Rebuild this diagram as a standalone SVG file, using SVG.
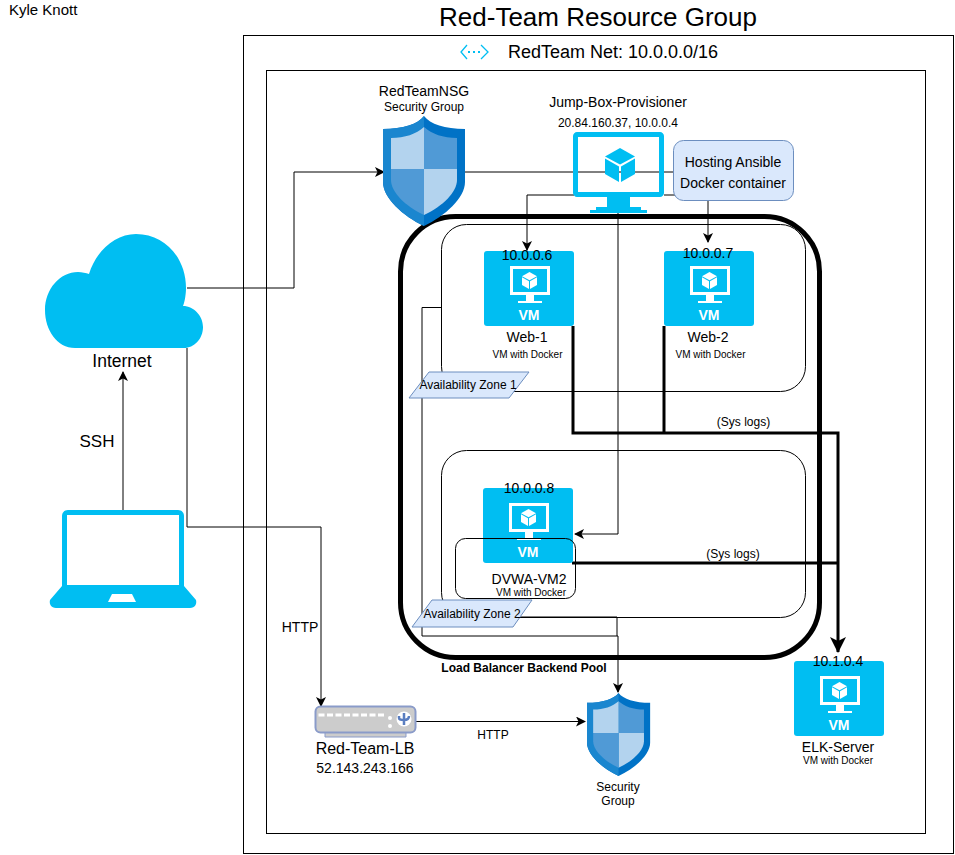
<svg xmlns="http://www.w3.org/2000/svg" xmlns:xlink="http://www.w3.org/1999/xlink" width="955" height="855" viewBox="0 0 955 855">
<style>
text{font-family:"Liberation Sans",Arial,sans-serif;fill:#000;text-anchor:middle}
.l{text-anchor:start}
.box{fill:none;stroke:#000;stroke-width:1}
.c{fill:none;stroke:#000;stroke-width:1}
.t{fill:none;stroke:#000;stroke-width:3}
.a{fill:#000;stroke:none}
.b{fill:#00bef2}
.z{fill:#dae8fc;stroke:#6c8ebf;stroke-width:1}
</style>
<defs>
<marker id="arr" markerWidth="11" markerHeight="11" refX="9" refY="5" orient="auto" markerUnits="userSpaceOnUse"><path d="M0 0L10 5L0 10L2.500 5Z" class="a"/></marker>
<marker id="arrT" markerWidth="18" markerHeight="18" refX="15" refY="8" orient="auto" markerUnits="userSpaceOnUse"><path d="M0 0L16 8L0 16L4 8Z" class="a"/></marker>
<symbol id="cube" viewBox="0 0 30 34" overflow="visible">
<path d="M15 0L30 8.500L15 16.500L0 8.500Z"/><path d="M0 10.500L14 18.500V34L0 26Z"/><path d="M30 10.500L16 18.500V34L30 26Z"/>
</symbol>
<g id="vm">
<rect width="90" height="75" rx="3" class="b"/>
<path d="M26 15H66V44H50V50H58V52H34V50H42V44H26ZM29 18V41H63V18Z" fill="#fff" fill-rule="evenodd"/>
<use xlink:href="#cube" href="#cube" x="38" y="21" width="15" height="17" fill="#fff"/>
<text x="45" y="69" font-size="14" font-weight="bold" style="fill:#fff">VM</text>
</g>
<g id="shield">
<path d="M41 0C47 8 62 13 82 13V66C82 82 62 100 41 110C20 100 0 82 0 66V13C20 13 35 8 41 0Z" fill="#0072c6"/>
<path d="M41 0C35 8 20 13 0 13V66C0 82 20 100 41 110Z" fill="#1a86cf"/>
<path d="M41 11C49 18 60 22 74 22V53H41Z" fill="#509ad6"/>
<path d="M41 11C33 18 22 22 8 22V53H41Z" fill="#b3d3ee"/>
<path d="M41 53H74V64C74 76 60 90 41 99Z" fill="#b3d3ee"/>
<path d="M41 53H8V64C8 76 22 90 41 99Z" fill="#509ad6"/>
</g>
</defs>
<g id="kyle"><text class="l" x="9" y="15" font-size="15">Kyle Knott</text></g>
<g id="resource-group">
<rect class="box" x="243.500" y="35.500" width="710" height="818"/>
<text x="598" y="26" font-size="26">Red-Team Resource Group</text>
</g>
<g id="redteam-net">
<rect class="box" x="266.500" y="70.500" width="659" height="763"/>
<path d="M467 45L461 52L467 59M481 45L488 52L481 59" fill="none" stroke="#00bef2" stroke-width="1.300"/>
<path d="M468 52H481" fill="none" stroke="#00bef2" stroke-width="2" stroke-dasharray="2 3"/>
<text class="l" x="508" y="58" font-size="18">RedTeam Net: 10.0.0.0/16</text>
</g>
<g id="zone1-box"><rect class="box" x="441.500" y="224.500" width="364" height="167" rx="25"/></g>
<g id="zone2-box"><rect class="box" x="441.500" y="450.500" width="364" height="167" rx="25"/></g>
<g id="connectors">
<path class="c" d="M187 288H294V172H384" marker-end="url(#arr)"/>
<path class="c" d="M465 172H673"/>
<path class="c" d="M574 195H527V250" marker-end="url(#arr)"/>
<path class="c" d="M664 195H708V201"/>
<path class="c" d="M708 201V242" marker-end="url(#arr)"/>
<path class="c" d="M618 213V534H575" marker-end="url(#arr)"/>
<path class="c" d="M442 307.500H422V636H618V692" marker-end="url(#arr)"/>
<path class="c" d="M520 617H617V636"/>
<path class="c" d="M187 348V527H321V706" marker-end="url(#arr)"/>
<path class="c" d="M416 721.500H585" marker-end="url(#arr)"/>
<path class="c" d="M123 510V372" marker-end="url(#arr)"/>
<path class="t" d="M573 326V433H838V652" marker-end="url(#arrT)"/>
<path class="t" d="M664 326V433"/>
<path class="t" d="M572 563H838"/>
</g>
<g id="lb-pool">
<rect x="400.500" y="216.500" width="419" height="441" rx="55" fill="none" stroke="#000" stroke-width="5"/>
<text x="524" y="672" font-size="12" font-weight="bold">Load Balancer Backend Pool</text>
</g>
<g id="internet">
<path class="b" d="M75 348C57 348 45 330 45 310C45 289 60 272 78 272C82 272 86 273 89 274C96 251 115 234 136 234C165 234 186 258 186 288C186 293 185 301 183 306C194 306 203 316 203 327C203 339 194 348 184 348Z"/>
<text x="122" y="367" font-size="17.500">Internet</text>
</g>
<text x="97" y="447" font-size="17">SSH</text>
<g id="laptop">
<path class="b" d="M68 510H178C182 510 184 513 184 516V586L196 600C197 604 195 608 190 608H56C51 608 49 604 50 600L62 586V516C62 513 64 510 68 510ZM67 515V585H179V515ZM112 594L108 602H136L132 594Z" fill-rule="evenodd"/>
</g>
<g id="jump-box">
<path class="b" d="M577 132H660C662 132 664 134 664 136V193C664 195 662 197 660 197H630V207H641V210H647V213H590V210H596V207H607V197H577C575 197 573 195 573 193V136C573 134 575 132 577 132ZM578 137V192H659V137Z" fill-rule="evenodd"/>
<use xlink:href="#cube" href="#cube" x="605" y="148" width="30" height="34" class="b"/>
<text x="618" y="107" font-size="14">Jump-Box-Provisioner</text>
<text x="618" y="127" font-size="12">20.84.160.37, 10.0.0.4</text>
</g>
<g id="ansible">
<rect class="z" x="673.500" y="140.500" width="120" height="60" rx="10"/>
<text x="733" y="167" font-size="14">Hosting Ansible</text>
<text x="733" y="188" font-size="14">Docker container</text>
</g>
<g id="nsg">
<use xlink:href="#shield" href="#shield" x="383" y="116"/>
<text x="424" y="96" font-size="14">RedTeamNSG</text>
<text x="424" y="111" font-size="12">Security Group</text>
</g>
<g id="web-1">
<use xlink:href="#vm" href="#vm" x="484" y="251"/>
<text x="527" y="260" font-size="14">10.0.0.6</text>
<text x="527" y="342" font-size="14">Web-1</text>
<text x="527.500" y="358" font-size="10">VM with Docker</text>
</g>
<g id="web-2">
<use xlink:href="#vm" href="#vm" x="664" y="251"/>
<text x="708" y="258" font-size="14">10.0.0.7</text>
<text x="708" y="342" font-size="14">Web-2</text>
<text x="710.500" y="358" font-size="10">VM with Docker</text>
</g>
<g id="dvwa">
<use xlink:href="#vm" href="#vm" x="483" y="488"/>
<rect class="box" x="455.500" y="538.500" width="120" height="60" rx="10"/>
<text x="529" y="493" font-size="14">10.0.0.8</text>
<text x="529" y="584" font-size="14">DVWA-VM2</text>
<text x="531" y="596" font-size="10">VM with Docker</text>
</g>
<g id="zone1">
<path class="z" d="M429 372H529L509 398H409Z"/>
<text x="468" y="389" font-size="12">Availability Zone 1</text>
</g>
<g id="zone2">
<path class="z" d="M432 600H532L513 627H412Z"/>
<text x="472" y="618" font-size="12">Availability Zone 2</text>
</g>
<text x="743.500" y="426" font-size="12">(Sys logs)</text>
<text x="733" y="558" font-size="12">(Sys logs)</text>
<g id="elk">
<use xlink:href="#vm" href="#vm" x="794" y="661"/>
<text x="838" y="666" font-size="14">10.1.0.4</text>
<text x="838" y="752" font-size="14">ELK-Server</text>
<text x="838" y="764" font-size="10">VM with Docker</text>
</g>
<g id="red-team-lb">
<path d="M325 730H406V737H325Z" fill="#ccc" stroke="#8a9bc9"/>
<rect x="315.500" y="706.500" width="100" height="26" rx="5" fill="#ccc" stroke="#8a9bc9" stroke-width="2"/>
<path d="M318.500 715H385" stroke="#fff" stroke-width="3" stroke-dasharray="6 2.500" fill="none"/>
<circle cx="390" cy="718" r="2" fill="#fff"/><circle cx="390" cy="726" r="2" fill="#fff"/>
<circle cx="404" cy="719" r="7.500" fill="#fff"/>
<path d="M404 713V725M399 716V718Q399 720 404 720Q409 720 409 716" stroke="#5a7ec0" stroke-width="2.500" fill="none"/>
<text x="365" y="754" font-size="16">Red-Team-LB</text>
<text x="365" y="773" font-size="14">52.143.243.166</text>
</g>
<text x="493" y="739" font-size="12">HTTP</text>
<text x="300" y="632" font-size="14">HTTP</text>
<g id="security-group">
<use xlink:href="#shield" href="#shield" transform="translate(587 693) scale(.77 .755)"/>
<text x="618" y="791" font-size="12">Security</text>
<text x="618" y="805" font-size="12">Group</text>
</g>
</svg>
